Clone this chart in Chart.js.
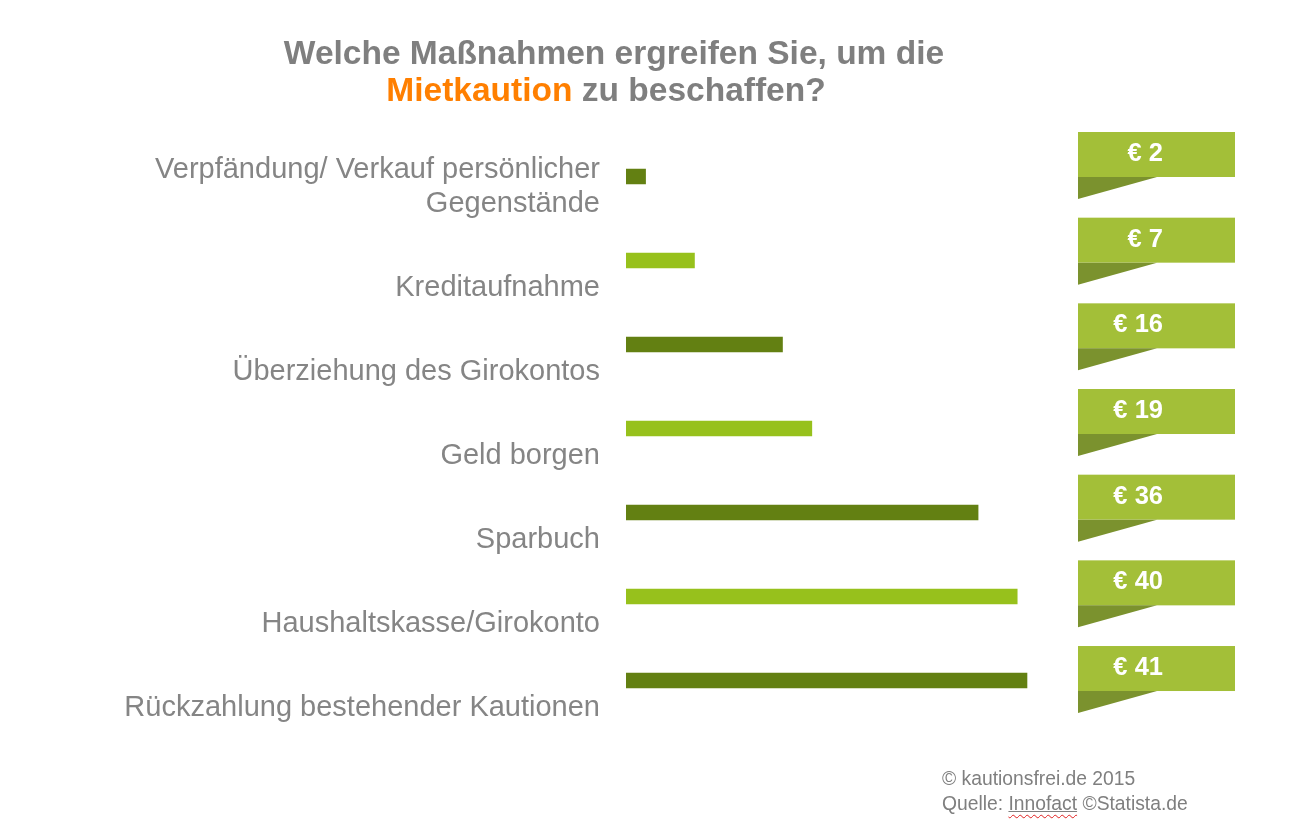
<!DOCTYPE html>
<html>
<head>
<meta charset="utf-8">
<script src="https://cdn.jsdelivr.net/npm/chart.js@4.4.1/dist/chart.umd.min.js"></script>
<style>
  html, body { margin: 0; padding: 0; background: #fff; }
  #wrap { position: relative; width: 1293px; height: 819px; overflow: hidden; font-family: "Liberation Sans", Arial, sans-serif; }
  #wrap canvas { position: absolute; left: 0; top: 0; }
  .t { position: absolute; white-space: nowrap; transform: translateX(-50%); font-weight: bold; font-size: 33.5px; line-height: 33px; color: #7f7f7f; }
  .o { color: #ff7f00; }
  .src { position: absolute; left: 942px; font-size: 19.3px; line-height: 19px; color: #7f7f7f; white-space: nowrap; }
  .ul { text-decoration: underline; text-decoration-color: #7f7f7f; }
  .sq { text-decoration: underline wavy #e02020; text-underline-offset: 4px; text-decoration-thickness: 1px; }
</style>
</head>
<body>
<div id="wrap">
  <canvas id="c" width="1293" height="819"></canvas>
  <div class="t" style="left:614px; top:36px;">Welche Maßnahmen ergreifen Sie, um die</div>
  <div class="t" style="left:606px; top:73px;"><span class="o">Mietkaution</span> zu beschaffen?</div>
  <div class="src" style="top:769px;">© kautionsfrei.de 2015</div>
  <div class="src" style="top:794px;">Quelle: <span class="ul"><span class="sq">Innofact</span></span> ©Statista.de</div>
</div>
<script>
const categories = [
  ["Verpfändung/ Verkauf persönlicher", "Gegenstände"],
  ["", "Kreditaufnahme"],
  ["", "Überziehung des Girokontos"],
  ["", "Geld borgen"],
  ["", "Sparbuch"],
  ["", "Haushaltskasse/Girokonto"],
  ["", "Rückzahlung bestehender Kautionen"]
];
const values = [2, 7, 16, 19, 36, 40, 41];
const currency = "€";
const barColors = ["#638012", "#97c11c", "#638012", "#97c11c", "#638012", "#97c11c", "#638012"];

const badgePlugin = {
  id: 'badges',
  afterDatasetsDraw(chart) {
    const ctx = chart.ctx;
    const yScale = chart.scales.y;
    const W = chart.width;
    const left = W - 215, right = W - 58;
    ctx.save();
    values.forEach((v, i) => {
      const cy = yScale.getPixelForValue(i);
      const top = cy - 44.5 + i * 1.67;
      const h = 45;
      ctx.fillStyle = '#a3bf38';
      ctx.fillRect(left, top, right - left, h);
      ctx.fillStyle = '#7b922e';
      ctx.beginPath();
      ctx.moveTo(left, top + h);
      ctx.lineTo(left + 79, top + h);
      ctx.lineTo(left, top + h + 22);
      ctx.closePath();
      ctx.fill();
      ctx.fillStyle = '#ffffff';
      ctx.font = 'bold 25.5px "Liberation Sans", Arial, sans-serif';
      ctx.textAlign = 'right';
      ctx.textBaseline = 'middle';
      ctx.fillText(currency + ' ' + v, left + 85, top + 22);
    });
    ctx.restore();
  }
};

new Chart(document.getElementById('c'), {
  type: 'bar',
  data: {
    labels: categories,
    datasets: [{
      data: values,
      backgroundColor: barColors,
      borderWidth: 0,
      barThickness: 15
    }]
  },
  options: {
    indexAxis: 'y',
    responsive: false,
    animation: false,
    events: [],
    layout: { padding: { left: 0, right: 178, top: 134.5, bottom: 96.5 } },
    plugins: { legend: { display: false }, tooltip: { enabled: false }, title: { display: false } },
    scales: {
      x: { display: false, min: 0, max: 50 },
      y: {
        offset: true,
        grid: { display: false, drawTicks: false },
        border: { display: false },
        afterFit(scale) { scale.width = 626; },
        ticks: {
          color: '#858585',
          padding: 26,
          labelOffset: 10.5,
          font: { family: '"Liberation Sans", Arial, sans-serif', size: 29, lineHeight: 34 / 29 }
        }
      }
    }
  },
  plugins: [badgePlugin]
});
</script>
</body>
</html>
